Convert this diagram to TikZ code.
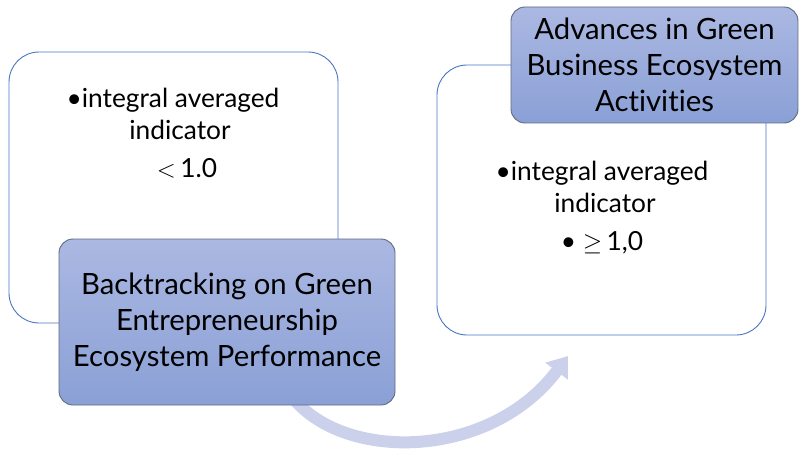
\documentclass[tikz,border=0pt]{standalone}
\usepackage{fontspec}
\setmainfont{Lato}[Ligatures={NoCommon,NoRare}]
\usetikzlibrary{arrows.meta,shadows}
\definecolor{wborder}{HTML}{4A74C4}
\definecolor{bborder}{HTML}{5F6A80}
\definecolor{btop}{HTML}{ABB8E2}
\definecolor{bbot}{HTML}{8AA0D6}
\definecolor{arrowc}{HTML}{CBD1EB}
\tikzset{
  whitebox/.style={draw=wborder, line width=0.9pt, fill=white, rounded corners=30pt, inner sep=0pt},
  bluebox/.style={draw=bborder, line width=0.9pt, top color=btop, bottom color=bbot, rounded corners=14pt, inner sep=0pt, align=center, font=\fontsize{29.3}{36}\selectfont},
  wtext/.style={anchor=base, inner sep=0pt, font=\fontsize{26.3}{30}\selectfont},
  bigarrow/.style={draw=arrowc, line width=12pt, -{Triangle[width=27pt,length=19pt]}}
}
\begin{document}
\begin{tikzpicture}[x=1pt,y=-1pt]
\useasboundingbox (0,0) rectangle (799,454);
% arrow (behind boxes)
\coordinate (as) at (293,398);
\coordinate (ae) at (568,356);
\draw[bigarrow] (as) .. controls (345,462) and (490,460) .. (ae);
% white boxes
\node[whitebox, minimum width=329pt, minimum height=271pt] (lw) at (173.5,187.5) {};
\node[whitebox, minimum width=329pt, minimum height=270pt] (rw) at (601.5,200) {};
% texts in white boxes
\node[wtext] (l1) at (173,108) {•integral averaged};
\node[wtext] (l2) at (180,140) {indicator};
\node[wtext] (l3) at (187,178) {$<$\,1.0};
\node[wtext] (r1) at (602,181) {•integral averaged};
\node[wtext] (r2) at (605,212) {indicator};
\node[wtext] (r3) at (602,250) {•\ $\geq$\,1,0};
% blue boxes
\node[bluebox, minimum width=336pt, minimum height=166pt] (b1) at (227,322) {Backtracking on Green\\Entrepreneurship\\Ecosystem Performance};
\node[bluebox, minimum width=287pt, minimum height=116pt] (b2) at (654.5,65) {Advances in Green\\Business Ecosystem\\Activities};
\end{tikzpicture}
\end{document}
